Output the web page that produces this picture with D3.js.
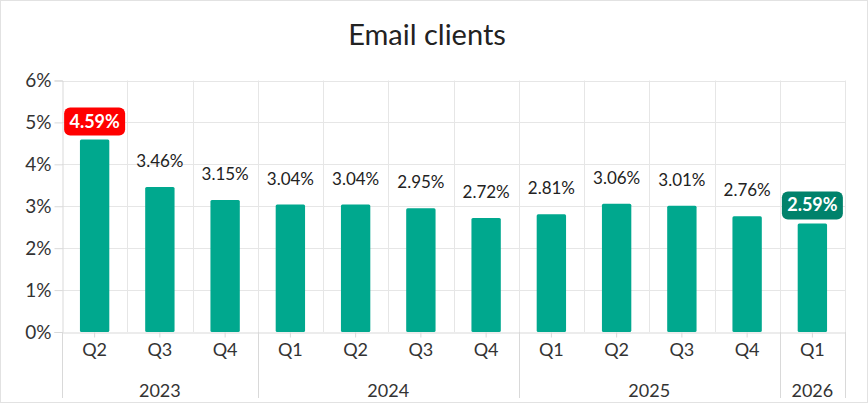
<!DOCTYPE html>
<html>
<head>
<meta charset="utf-8">
<script src="https://cdn.jsdelivr.net/npm/d3@7"></script>
<style>
  body { margin: 0; background: #fff; }
  svg { display: block; font-family: Lato, "Open Sans", sans-serif; }
</style>
</head>
<body>
<svg></svg>
<script>
// chart data
var quarters = ["Q2","Q3","Q4","Q1","Q2","Q3","Q4","Q1","Q2","Q3","Q4","Q1"];
var years    = ["2023","2023","2023","2024","2024","2024","2024","2025","2025","2025","2025","2026"];
var values   = [4.59, 3.46, 3.15, 3.04, 3.04, 2.95, 2.72, 2.81, 3.06, 3.01, 2.76, 2.59];
var yTicks   = [0, 1, 2, 3, 4, 5, 6];
var highlight = {0: "#ff0000", 11: "#00826b"};

var width = 868, height = 404;
var plotLeft = 62, plotRight = 845, plotTop = 80.5, plotBottom = 332;

var svg = d3.select("svg").attr("width", width).attr("height", height);

svg.append("rect")
  .attr("x", 0.5).attr("y", 0.5)
  .attr("width", width - 1).attr("height", height - 2)
  .attr("fill", "none").attr("stroke", "#e2e2e2");

svg.append("text")
  .attr("x", 427).attr("y", 45)
  .attr("text-anchor", "middle")
  .attr("font-size", "29px")
  .attr("fill", "#222")
  .text("Email clients");

var idx = d3.range(values.length);

var x = d3.scaleBand()
  .domain(idx)
  .range([plotLeft, plotRight])
  .paddingInner(0.55)
  .paddingOuter(0.275);

var y = d3.scaleLinear().domain([0, 6]).range([plotBottom, plotTop]);

var step = x.step();

// horizontal grid
svg.append("g").selectAll("line")
  .data(yTicks.slice(1))
  .enter().append("line")
  .attr("x1", plotLeft).attr("x2", plotRight)
  .attr("y1", function(d){ return Math.round(y(d)) + 0.5; })
  .attr("y2", function(d){ return Math.round(y(d)) + 0.5; })
  .attr("stroke", "#e6e6e6");

// vertical grid at band edges
svg.append("g").selectAll("line")
  .data(d3.range(1, values.length + 1))
  .enter().append("line")
  .attr("x1", function(i){ return Math.round(plotLeft + i * step) + 0.5; })
  .attr("x2", function(i){ return Math.round(plotLeft + i * step) + 0.5; })
  .attr("y1", plotTop).attr("y2", plotBottom)
  .attr("stroke", "#e6e6e6");

// y axis
var yAxis = svg.append("g")
  .attr("transform", "translate(" + (plotLeft + 0.5) + ",0)")
  .call(d3.axisLeft(y).tickValues(yTicks).tickFormat(function(d){ return d + "%"; }).tickSize(8).tickPadding(3));
yAxis.select(".domain").attr("stroke", "#d9d9d9");
yAxis.selectAll(".tick line").attr("stroke", "#d9d9d9");
yAxis.selectAll("text").attr("font-size", "19px").attr("fill", "#333").attr("font-family", "Lato, sans-serif");

// x axis
var xAxis = svg.append("g")
  .attr("transform", "translate(0," + (plotBottom + 0.5) + ")")
  .call(d3.axisBottom(x).tickFormat(function(i){ return quarters[i]; }).tickSize(5).tickPadding(6).tickSizeOuter(0));
xAxis.select(".domain").attr("stroke", "#d9d9d9");
xAxis.selectAll(".tick line").attr("stroke", "#d9d9d9");
xAxis.selectAll("text").attr("font-size", "18px").attr("fill", "#333").attr("font-family", "Lato, sans-serif");

// year groups
var groups = [];
idx.forEach(function(i){
  var g = groups[groups.length - 1];
  if (g && g.year === years[i]) g.end = i;
  else groups.push({year: years[i], start: i, end: i});
});

var sepX = [plotLeft];
groups.forEach(function(g){ sepX.push(plotLeft + (g.end + 1) * step); });

svg.append("g").selectAll("line")
  .data(sepX)
  .enter().append("line")
  .attr("x1", function(d){ return Math.round(d) + 0.5; })
  .attr("x2", function(d){ return Math.round(d) + 0.5; })
  .attr("y1", plotBottom).attr("y2", 398)
  .attr("stroke", "#d9d9d9");

svg.append("g").selectAll("text")
  .data(groups)
  .enter().append("text")
  .attr("x", function(g){ return plotLeft + (g.start + g.end + 1) / 2 * step; })
  .attr("y", 397)
  .attr("text-anchor", "middle")
  .attr("font-size", "18px")
  .attr("fill", "#333")
  .text(function(g){ return g.year; });

// bars
svg.append("g").selectAll("rect")
  .data(idx)
  .enter().append("rect")
  .attr("x", function(i){ return x(i); })
  .attr("y", function(i){ return y(values[i]); })
  .attr("width", x.bandwidth())
  .attr("height", function(i){ return y(0) - y(values[i]); })
  .attr("rx", 1.5)
  .attr("fill", "#00a88e");

// labels
var labels = svg.append("g");
idx.forEach(function(i){
  var cx = x(i) + x.bandwidth() / 2;
  var txt = values[i].toFixed(2) + "%";
  if (highlight[i]) {
    var bw = 61, bh = 28;
    labels.append("rect")
      .attr("x", cx - bw / 2).attr("y", y(values[i]) - bh - 4)
      .attr("width", bw).attr("height", bh)
      .attr("rx", 6)
      .attr("fill", highlight[i]);
    labels.append("text")
      .attr("x", cx).attr("y", y(values[i]) - 4 - bh / 2 + 6)
      .attr("text-anchor", "middle")
      .attr("font-size", "18px")
      .attr("font-weight", "bold")
      .attr("fill", "#fff")
      .text(txt);
  } else {
    labels.append("text")
      .attr("x", cx).attr("y", y(values[i]) - 20)
      .attr("text-anchor", "middle")
      .attr("font-size", "17px")
      .attr("fill", "#222")
      .text(txt);
  }
});
</script>
</body>
</html>
